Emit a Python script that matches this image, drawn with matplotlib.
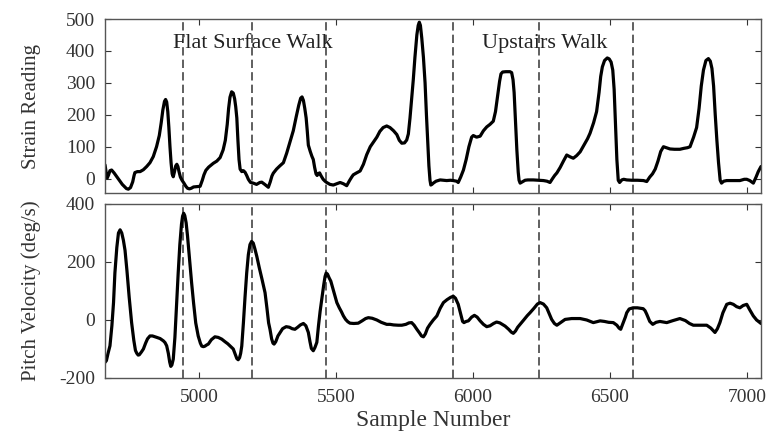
import numpy as np
import matplotlib
matplotlib.use("Agg")
import matplotlib.pyplot as plt

plt.rcParams["font.family"] = ["Liberation Serif", "DejaVu Serif"]
plt.rcParams["axes.unicode_minus"] = False

# Strain reading (top panel)
strain_x = [4657, 4661, 4665, 4670, 4675, 4681, 4690, 4705, 4720, 4735, 4742,
            4750, 4758, 4763, 4766, 4775, 4785, 4797, 4809, 4821, 4833, 4845,
            4855, 4862, 4868, 4874, 4878, 4882, 4886, 4890, 4894, 4898, 4902,
            4906, 4910, 4915, 4919, 4923, 4927, 4932, 4938, 4945, 4952, 4958,
            4965, 4972, 4980, 4992, 5004, 5012, 5018, 5025, 5035, 5052, 5065,
            5077, 5088, 5096, 5103, 5108, 5113, 5119, 5125, 5130, 5134, 5138,
            5142, 5146, 5150, 5156, 5162, 5168, 5174, 5180, 5188, 5198, 5210,
            5222, 5229, 5240, 5253, 5260, 5266, 5271, 5283, 5295, 5308, 5320,
            5332, 5344, 5355, 5364, 5371, 5376, 5381, 5386, 5391, 5395, 5399,
            5406, 5412, 5417, 5422, 5427, 5431, 5436, 5440, 5446, 5453, 5460,
            5466, 5478, 5490, 5502, 5515, 5527, 5539, 5550, 5558, 5563, 5575,
            5588, 5600, 5612, 5625, 5637, 5649, 5660, 5672, 5685, 5697, 5710,
            5722, 5731, 5740, 5750, 5758, 5764, 5770, 5776, 5782, 5788, 5795,
            5800, 5804, 5808, 5813, 5819, 5825, 5830, 5835, 5839, 5843, 5846,
            5850, 5855, 5865, 5880, 5892, 5904, 5918, 5928, 5940, 5946, 5955,
            5965, 5975, 5985, 5995, 6001, 6013, 6026, 6038, 6050, 6062, 6074,
            6082, 6090, 6097, 6102, 6108, 6120, 6135, 6141, 6146, 6150, 6155,
            6160, 6165, 6168, 6172, 6180, 6190, 6200, 6220, 6240, 6257, 6270,
            6281, 6290, 6298, 6306, 6318, 6330, 6342, 6355, 6366, 6378, 6391,
            6405, 6418, 6427, 6440, 6451, 6460, 6466, 6472, 6480, 6490, 6497,
            6504, 6510, 6515, 6520, 6525, 6530, 6535, 6543, 6550, 6561, 6580,
            6600, 6622, 6634, 6645, 6655, 6665, 6675, 6685, 6695, 6705, 6719,
            6735, 6755, 6770, 6783, 6792, 6805, 6816, 6825, 6833, 6841, 6850,
            6859, 6866, 6872, 6878, 6884, 6890, 6896, 6902, 6907, 6915, 6926,
            6945, 6960, 6974, 6990, 6999, 7010, 7023, 7033, 7041, 7051]
strain_y = [43, 20, 2, 12, 25, 27, 18, 0, -18, -31, -33,
            -28, -10, 10, 19, 22, 22, 28, 38, 50, 69, 100,
            135, 175, 215, 242, 248, 240, 210, 160, 100, 50, 15,
            6, 20, 40, 45, 38, 22, 5, -5, -14, -24, -30,
            -32, -30, -26, -25, -24, -5, 12, 26, 36, 48, 55,
            66, 90, 120, 170, 220, 255, 272, 268, 250, 225, 190,
            120, 60, 30, 22, 25, 20, 10, -2, -12, -14, -18,
            -12, -11, -18, -27, -10, 8, 17, 30, 40, 50, 80,
            115, 150, 195, 230, 252, 256, 245, 220, 190, 150, 105,
            85, 70, 60, 35, 15, 10, 16, 18, 8, -2, -8,
            -12, -18, -20, -16, -12, -16, -22, -5, 6, 12, 18,
            24, 45, 75, 100, 115, 130, 148, 160, 165, 160, 150,
            138, 120, 111, 112, 121, 140, 190, 250, 310, 380, 450,
            480, 490, 480, 440, 380, 300, 200, 110, 40, -5, -20,
            -18, -14, -8, -4, -5, -6, -5, -6, -8, -12, 5,
            27, 60, 100, 130, 135, 130, 133, 150, 162, 170, 180,
            210, 260, 305, 328, 334, 335, 335, 332, 310, 270, 180,
            90, 20, -5, -14, -10, -5, -4, -4, -5, -6, -8,
            -12, 0, 10, 18, 35, 55, 74, 68, 64, 72, 84,
            105, 125, 142, 175, 210, 270, 320, 350, 370, 378, 375,
            365, 340, 280, 170, 60, -5, -12, -4, -2, -4, -5,
            -5, -6, -9, 5, 15, 30, 55, 85, 100, 97, 93,
            92, 92, 95, 97, 100, 130, 160, 220, 290, 340, 370,
            376, 368, 345, 290, 200, 120, 50, -5, -14, -8, -6,
            -6, -6, -6, -2, -2, -6, -14, 5, 22, 38]

# Pitch velocity (bottom panel)
pitch_x = [4657, 4662, 4668, 4675, 4682, 4688, 4693, 4700, 4706, 4712, 4718,
           4724, 4730, 4737, 4745, 4754, 4762, 4768, 4773, 4778, 4782, 4790,
           4797, 4805, 4812, 4821, 4830, 4840, 4846, 4858, 4870, 4876, 4882,
           4888, 4893, 4897, 4901, 4906, 4912, 4918, 4924, 4930, 4936, 4940,
           4944, 4948, 4953, 4958, 4965, 4973, 4980, 4988, 4997, 5005, 5010,
           5016, 5022, 5028, 5034, 5045, 5058, 5070, 5083, 5095, 5105, 5113,
           5120, 5125, 5132, 5138, 5143, 5148, 5152, 5156, 5162, 5168, 5174,
           5180, 5186, 5192, 5198, 5204, 5211, 5220, 5230, 5241, 5248, 5254,
           5259, 5265, 5270, 5274, 5280, 5288, 5296, 5305, 5318, 5330, 5340,
           5350, 5360, 5370, 5381, 5390, 5399, 5405, 5410, 5417, 5423, 5430,
           5436, 5442, 5448, 5455, 5460, 5464, 5469, 5475, 5481, 5488, 5495,
           5503, 5512, 5520, 5527, 5535, 5543, 5551, 5565, 5581, 5595, 5608,
           5618, 5632, 5649, 5665, 5685, 5697, 5710, 5727, 5740, 5755, 5766,
           5776, 5785, 5795, 5805, 5812, 5819, 5826, 5834, 5843, 5855, 5868,
           5880, 5892, 5905, 5918, 5928, 5936, 5946, 5955, 5962, 5967, 5975,
           5983, 5995, 6005, 6015, 6026, 6038, 6050, 6062, 6075, 6086, 6098,
           6110, 6117, 6130, 6140, 6147, 6155, 6163, 6172, 6185, 6198, 6208,
           6222, 6235, 6245, 6257, 6269, 6278, 6287, 6297, 6306, 6318, 6336,
           6360, 6391, 6415, 6439, 6452, 6464, 6480, 6495, 6512, 6525, 6533,
           6539, 6548, 6556, 6561, 6570, 6584, 6600, 6621, 6628, 6634, 6645,
           6656, 6668, 6682, 6694, 6707, 6730, 6755, 6775, 6790, 6804, 6830,
           6853, 6868, 6883, 6892, 6901, 6912, 6926, 6938, 6950, 6962, 6974,
           6986, 6999, 7010, 7023, 7035, 7051]
pitch_y = [-146, -140, -115, -89, -20, 60, 162, 250, 300, 311, 300,
           275, 240, 170, 80, -9, -70, -105, -115, -121, -120, -110,
           -100, -80, -65, -55, -55, -58, -60, -64, -72, -78, -89,
           -115, -145, -160, -155, -135, -60, 50, 162, 260, 330, 358,
           368, 360, 335, 290, 215, 128, 60, -10, -55, -80, -90,
           -92, -90, -86, -83, -68, -58, -60, -66, -75, -82, -89,
           -95, -100, -118, -133, -137, -130, -115, -90, -10, 80, 162,
           225, 260, 271, 265, 245, 219, 180, 140, 94, 40, -10,
           -32, -65, -80, -83, -75, -55, -43, -30, -23, -25, -30,
           -32, -25, -17, -12, -20, -43, -75, -98, -106, -95, -77,
           -20, 30, 71, 120, 150, 162, 158, 145, 134, 110, 85,
           60, 42, 28, 14, 2, -6, -11, -12, -11, -3, 5,
           8, 6, 0, -8, -15, -15, -17, -18, -18, -15, -10,
           -9, -18, -32, -45, -55, -58, -48, -28, -15, 0, 14,
           40, 60, 70, 78, 82, 75, 54, 20, -5, -9, -5,
           -3, 10, 16, 10, -3, -15, -23, -20, -12, -7, -10,
           -17, -21, -32, -42, -46, -38, -25, -15, 0, 15, 25,
           40, 55, 60, 55, 42, 22, 2, -12, -18, -10, 2,
           5, 5, 0, -9, -6, -3, -5, -8, -9, -18, -28,
           -32, -10, 10, 25, 38, 42, 42, 39, 32, 20, -5,
           -15, -8, -5, -7, -9, -2, 5, -2, -12, -18, -18,
           -18, -28, -43, -30, -9, 25, 54, 58, 54, 46, 42,
           50, 54, 35, 14, 0, -12]

# Step boundaries and phase labels
step_lines = [4943, 5192, 5462, 5928, 6242, 6585]
phase_labels = ["Flat Surface Walk", "Upstairs Walk"]
phase_x = [5197, 6262]

xlim = (4657, 7051)
xticks = [5000, 5500, 6000, 6500, 7000]
strain_ticks = [0, 100, 200, 300, 400, 500]
pitch_ticks = [-200, 0, 200, 400]

text_col = "#333333"


def style_axes(ax):
    ax.tick_params(direction="in", length=4, width=0.8, top=True, right=True,
                   labelsize=14, colors=text_col, labelcolor=text_col)
    ax.tick_params(axis="y", pad=7)
    ax.tick_params(axis="x", pad=8)
    for sp in ax.spines.values():
        sp.set_color("#555555")
        sp.set_linewidth(1.0)


fig = plt.figure(figsize=(7.74, 4.32), dpi=100)
ax1 = fig.add_axes([0.1357, 0.5532, 0.8475, 0.4028])
ax2 = fig.add_axes([0.1357, 0.125, 0.8475, 0.4028])

ax1.plot(strain_x, strain_y, color="black", lw=2.3,
         solid_joinstyle="round", solid_capstyle="round")
ax2.plot(pitch_x, pitch_y, color="black", lw=2.3,
         solid_joinstyle="round", solid_capstyle="round")

for ax in (ax1, ax2):
    for s in step_lines:
        ax.axvline(s, color="#444444", lw=1.2, ls=(0, (5, 2.5)), zorder=1)
    ax.set_xlim(*xlim)
    ax.set_xticks(xticks)
    style_axes(ax)

ax1.set_ylim(-45, 500)
ax1.set_yticks(strain_ticks)
ax1.set_xticklabels([])
ax1.set_ylabel("Strain Reading", fontsize=15, color=text_col)
ax1.yaxis.set_label_coords(-0.097, 0.5)

ax2.set_ylim(-200, 400)
ax2.set_yticks(pitch_ticks)
ax2.set_ylabel("Pitch Velocity (deg/s)", fontsize=15, color=text_col)
ax2.yaxis.set_label_coords(-0.097, 0.5)
ax2.set_xlabel("Sample Number", fontsize=17, color=text_col, labelpad=3)

for lab, xp in zip(phase_labels, phase_x):
    ax1.text(xp, 424, lab, ha="center", va="center", fontsize=16,
             color="#222222")

fig.savefig("out.png", dpi=100)
